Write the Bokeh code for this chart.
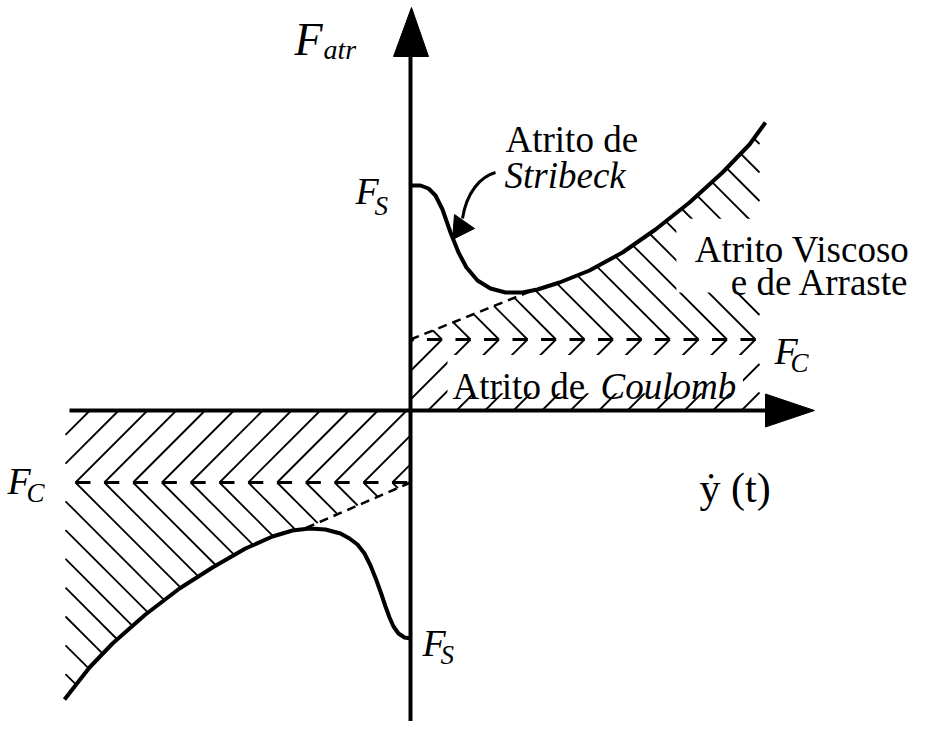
import numpy as np
from bokeh.plotting import figure
from bokeh.models import Range1d
from bokeh.core.properties import value
from bokeh.embed import file_html
from bokeh.resources import INLINE

# ---------------- data (schematic units, origin at the axes crossing) ----------------
# Stribeck curve for positive velocity
pos_v = [0, 10, 18, 25, 32, 40, 48, 56, 67, 80, 95, 112, 127, 149, 179, 212, 245, 279, 312, 339, 355]
pos_f = [225, 225, 222, 215, 201, 178, 158, 143, 130, 122, 118, 118, 121, 128, 140, 158, 181, 208, 238, 266, 288]
# Stribeck curve for negative velocity
neg_v = [0, -6, -12, -17, -21, -25, -29, -34, -40, -46, -53, -61, -70, -85, -101, -118, -138, -165, -198, -231, -265, -298, -321, -346]
neg_f = [-228, -227, -223, -216, -207, -196, -184, -170, -155, -143, -134, -128, -123, -119, -118, -120, -126, -138, -157, -178, -204, -233, -257, -289]
# Coulomb levels
fc_pos = 71
fc_neg = -72
# viscous (dashed) line: from Coulomb level at v=0 to the touching point on the curve
visc_pos_v = [0, 122]
visc_pos_f = [71, 120]
visc_neg_v = [0, -108]
visc_neg_f = [-72, -119]
# extent of the shaded zones / axes
v_right = 349
v_left = -345
axis_x = [-341, 357]
axis_y = [-311, 356]

FS = 37  # label font size (px)

p = figure(width=910, height=721,
           x_range=Range1d(-410, 500), y_range=Range1d(-311, 410),
           output_backend="svg", toolbar_location=None,
           x_axis_type=None, y_axis_type=None, min_border=0)
p.grid.visible = False
p.outline_line_color = None

# ---------------- hatch geometry ----------------
pv = np.array(pos_v, float); pf = np.array(pos_f, float)
nv = np.array(neg_v, float)[::-1]; nf = np.array(neg_f, float)[::-1]
s_pos = (visc_pos_f[1] - visc_pos_f[0]) / (visc_pos_v[1] - visc_pos_v[0])
s_neg = (visc_neg_f[1] - visc_neg_f[0]) / (visc_neg_v[1] - visc_neg_v[0])

def top_b(v):
    return np.where(v < visc_pos_v[1], fc_pos + s_pos * v, np.interp(v, pv, pf))

def bot_d(v):
    return np.where(v > visc_neg_v[1], fc_neg + s_neg * v, np.interp(v, nv, nf))

sp_pos, anchor_pos = 28.5, 345.0
sp_neg, anchor_neg = 28.8, -335.0
hx0, hy0, hx1, hy1 = [], [], [], []
dx0, dx1, dy = [], [], []

def add(a, b, c, d):
    hx0.append(float(a)); hy0.append(float(b)); hx1.append(float(c)); hy1.append(float(d))

for k in range(-14, 12):
    c = anchor_pos + sp_pos * k
    va, vb = max(c - fc_pos, 0), min(c, v_right)
    if vb > va:
        add(va, va + fc_pos - c, vb, vb + fc_pos - c)
    if c > 0:
        v0 = min(c, v_right)
        f0 = fc_pos + c - v0
        if f0 < top_b(np.array([v0]))[0]:
            vs = np.arange(v0, -0.001, -0.2)
            fl = fc_pos + c - vs
            hit = np.nonzero(fl >= top_b(vs))[0]
            ve = float(vs[hit[0]]) if len(hit) else 0.0
            add(v0, f0, ve, fc_pos + c - ve)
    if 0 < c <= v_right:
        dx0.append(float(max(c - 15, 0))); dx1.append(float(c)); dy.append(float(fc_pos))

for k in range(-12, 14):
    d = anchor_neg + sp_neg * k
    va, vb = max(d, v_left), min(d - fc_neg, 0)
    if vb > va:
        add(va, fc_neg + va - d, vb, fc_neg + vb - d)
    if d < 0:
        v0 = max(d, v_left)
        f0 = fc_neg - (v0 - d)
        if f0 > bot_d(np.array([v0]))[0]:
            vs = np.arange(v0, 0.001, 0.2)
            fl = fc_neg - (vs - d)
            hit = np.nonzero(fl <= bot_d(vs))[0]
            ve = float(vs[hit[0]]) if len(hit) else 0.0
            add(v0, f0, ve, fc_neg - (ve - d))
    if v_left <= d < 0:
        dx0.append(float(d)); dx1.append(float(min(d + 15, 0))); dy.append(float(fc_neg))

p.segment(hx0, hy0, hx1, hy1, line_color="black", line_width=1.8)

# ---------------- white boxes behind the labels lying on the hatching ----------------
coul_x, coul_y = 42, 24          # anchor of "Atrito de Coulomb"
visc_x, visc_y1, visc_y2 = 499, 161, 128   # right anchor of the viscous label
p.quad(left=[coul_x - 5, visc_x - 6.3 * FS], right=[coul_x + 7.85 * FS, visc_x + 10],
       bottom=[coul_y - 0.18 * FS, visc_y2 - 0.27 * FS], top=[coul_y + 0.85 * FS, visc_y1 + 0.83 * FS],
       fill_color="white", line_color=None)

# ---------------- dashed lines ----------------
p.segment(dx0, dy, dx1, dy, line_color="black", line_width=3)
p.line(visc_pos_v, visc_pos_f, line_color="black", line_width=2.5, line_dash="9 6")
p.line(visc_neg_v, visc_neg_f, line_color="black", line_width=2.5, line_dash="9 6")

# ---------------- curves ----------------
p.line(pos_v, pos_f, line_color="black", line_width=4, line_join="round")
p.line(neg_v, neg_f, line_color="black", line_width=4, line_join="round")

# ---------------- axes ----------------
p.line(axis_x, [0, 0], line_color="black", line_width=4)
p.line([0, 0], axis_y, line_color="black", line_width=4)
p.patch([axis_x[1] - 2, 404, axis_x[1] - 2], [16.5, 0, -16.5], color="black")
p.patch([-17, 1, 18], [axis_y[1] - 2, 403, axis_y[1] - 2], color="black")

# ---------------- Stribeck pointer ----------------
p.bezier(x0=[85], y0=[238], x1=[52], y1=[192], cx0=[70], cy0=[234], cx1=[56], cy1=[218],
         line_color="black", line_width=3)
p.patch([42, 44, 64], [171, 196, 182], color="black")

# ---------------- texts ----------------
def txt(x, y, s, size, style="normal", align="left"):
    p.text(x=[x], y=[y], text=[s], text_font=value("Liberation Serif"), text_font_size=f"{size}px",
           text_font_style=style, text_baseline="alphabetic", text_align=align, text_color="black")

txt(coul_x, coul_y, "Atrito de", FS)
txt(190, coul_y, "Coulomb", FS, "italic")
txt(visc_x, visc_y1, "Atrito Viscoso", FS, align="right")
txt(visc_x, visc_y2, "e de Arraste", FS, align="right")
txt(95, 271, "Atrito de", FS)
txt(94, 235, "Stribeck", FS, "italic")
txt(-116, 371, "F", 46, "italic")
txt(-87, 361, "atr", 28, "italic")
for fx, fy, sx, sy, sub in [(-55, 220, -36, 205, "S"), (12, -232, 30, -244, "S"),
                            (-403, -70, -384, -82, "C"), (364, 60, 380, 48, "C")]:
    txt(fx, fy, "F", 38, "italic")
    txt(sx, sy, sub, 27, "italic")
txt(289, -77, "ẏ (t)", 42)

open("out.html", "w").write(file_html(p, INLINE))
